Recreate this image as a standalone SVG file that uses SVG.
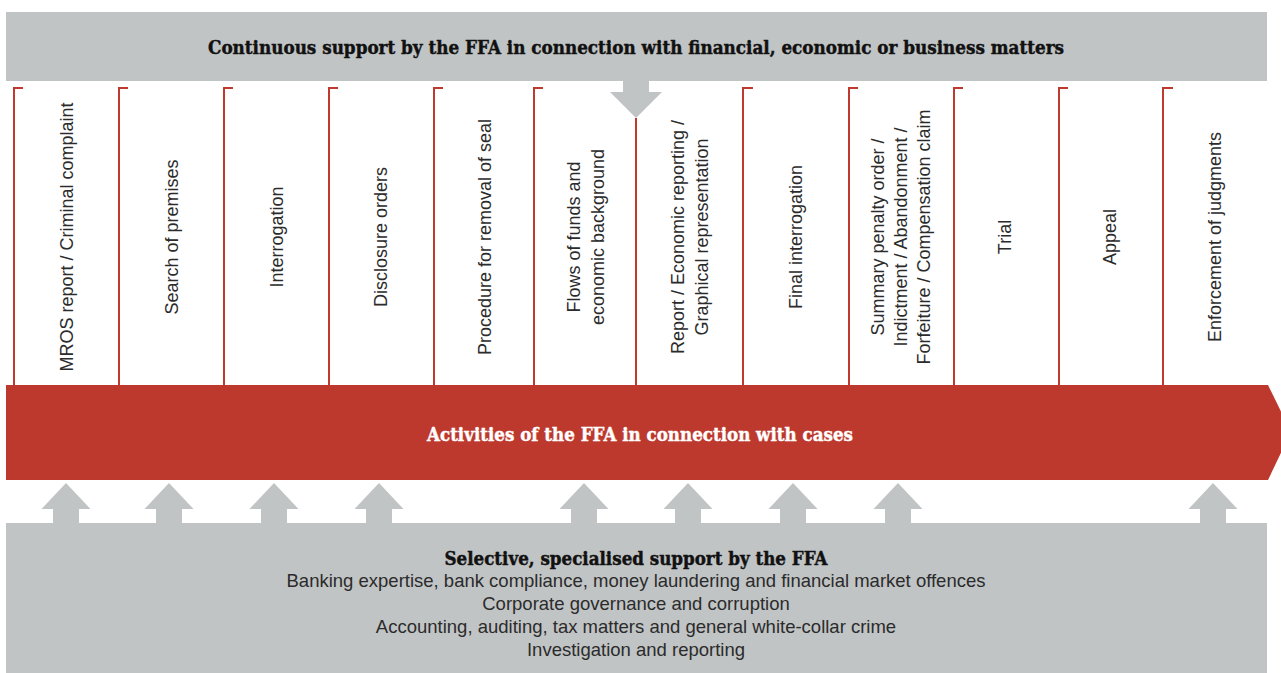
<svg xmlns="http://www.w3.org/2000/svg" width="1281" height="673" viewBox="0 0 1281 673">
  <style>
    .band { fill: #c1c4c5; }
    .red { fill: #bd392d; }
    .bracket { fill: none; stroke: #c0392e; stroke-width: 2; }
    .head { font-family: "DejaVu Serif", "Liberation Serif", serif; font-weight: bold; font-size: 18px; text-anchor: middle; stroke-width: 0.45px; }
    .dark { fill: #111; stroke: #111; }
    .light { fill: #fff; stroke: #fff; }
    .label { font-family: "Liberation Sans", Arial, sans-serif; font-size: 18px; fill: #2b2b2b; text-anchor: middle; }
    .body { font-family: "Liberation Sans", Arial, sans-serif; font-size: 18.5px; fill: #2b2b2b; text-anchor: middle; }
  </style>
  <defs>
    <!-- upward support arrow, tip at origin -->
    <path id="up" class="band" d="M0,0 L24.5,26 L13,26 L13,41 L-13,41 L-13,26 L-24.5,26 Z"/>
  </defs>

  <rect width="1281" height="673" fill="#ffffff"/>

  <!-- continuous support banner -->
  <g id="continuous-support">
    <rect class="band" x="6" y="12" width="1261" height="69"/>
    <path class="band" d="M623,80 L649,80 L649,92 L662,92 L636,118 L610,92 L623,92 Z"/>
    <text class="head dark" x="636" y="54" textLength="856" lengthAdjust="spacingAndGlyphs">Continuous support by the FFA in connection with financial, economic or business matters</text>
  </g>

  <!-- stage columns -->
  <g id="connectors">
    <path class="bracket" d="M23,88 H14 V385 M128,88 H119 V385 M233,88 H224 V385 M338,88 H329 V385 M443,88 H434 V385 M543,88 H534 V385 M753,88 H743 V385 M858,88 H849 V385 M963,88 H954 V385 M1068,88 H1059 V385 M1173,88 H1163 V385"/>
    <path class="bracket" d="M636,118 V385"/>
  </g>

  <g id="stage-mros"><text class="label" transform="translate(66,237) rotate(-90)" y="6.5">MROS report / Criminal complaint</text></g>
  <g id="stage-search"><text class="label" transform="translate(171,237) rotate(-90)" y="6.5">Search of premises</text></g>
  <g id="stage-interrogation"><text class="label" transform="translate(276,237) rotate(-90)" y="6.5">Interrogation</text></g>
  <g id="stage-disclosure"><text class="label" transform="translate(380,237) rotate(-90)" y="6.5">Disclosure orders</text></g>
  <g id="stage-seal"><text class="label" transform="translate(484,237) rotate(-90)" y="6.5">Procedure for removal of seal</text></g>
  <g id="stage-flows"><text class="label" transform="translate(585,237) rotate(-90)"><tspan x="0" y="-5">Flows of funds and</tspan><tspan x="0" y="18.5">economic background</tspan></text></g>
  <g id="stage-report"><text class="label" transform="translate(689,237) rotate(-90)"><tspan x="0" y="-5">Report / Economic reporting /</tspan><tspan x="0" y="18.5">Graphical representation</tspan></text></g>
  <g id="stage-final"><text class="label" transform="translate(795,237) rotate(-90)" y="6.5">Final interrogation</text></g>
  <g id="stage-summary"><text class="label" transform="translate(900,237) rotate(-90)"><tspan x="0" y="-16.5">Summary penalty order /</tspan><tspan x="0" y="6.5">Indictment / Abandonment /</tspan><tspan x="0" y="29.5">Forfeiture / Compensation claim</tspan></text></g>
  <g id="stage-trial"><text class="label" transform="translate(1004,237) rotate(-90)" y="6.5">Trial</text></g>
  <g id="stage-appeal"><text class="label" transform="translate(1109,237) rotate(-90)" y="6.5">Appeal</text></g>
  <g id="stage-enforcement"><text class="label" transform="translate(1214,237) rotate(-90)" y="6.5">Enforcement of judgments</text></g>

  <!-- case activities arrow -->
  <g id="case-activities">
    <path class="red" d="M6,385 L1268,385 L1291,432 L1268,480 L6,480 Z"/>
    <text class="head light" x="640" y="441" textLength="426" lengthAdjust="spacingAndGlyphs">Activities of the FFA in connection with cases</text>
  </g>

  <!-- selective support box -->
  <g id="selective-support">
    <use href="#up" x="66" y="483"/>
    <use href="#up" x="169" y="483"/>
    <use href="#up" x="274" y="483"/>
    <use href="#up" x="379" y="483"/>
    <use href="#up" x="584" y="483"/>
    <use href="#up" x="688" y="483"/>
    <use href="#up" x="793" y="483"/>
    <use href="#up" x="898" y="483"/>
    <use href="#up" x="1213" y="483"/>
    <rect class="band" x="6" y="523" width="1261" height="150"/>
    <text class="head dark" x="636" y="565" textLength="383" lengthAdjust="spacingAndGlyphs">Selective, specialised support by the FFA</text>
    <text class="body" x="636" y="587">Banking expertise, bank compliance, money laundering and financial market offences</text>
    <text class="body" x="636" y="610">Corporate governance and corruption</text>
    <text class="body" x="636" y="633">Accounting, auditing, tax matters and general white-collar crime</text>
    <text class="body" x="636" y="656">Investigation and reporting</text>
  </g>
</svg>
